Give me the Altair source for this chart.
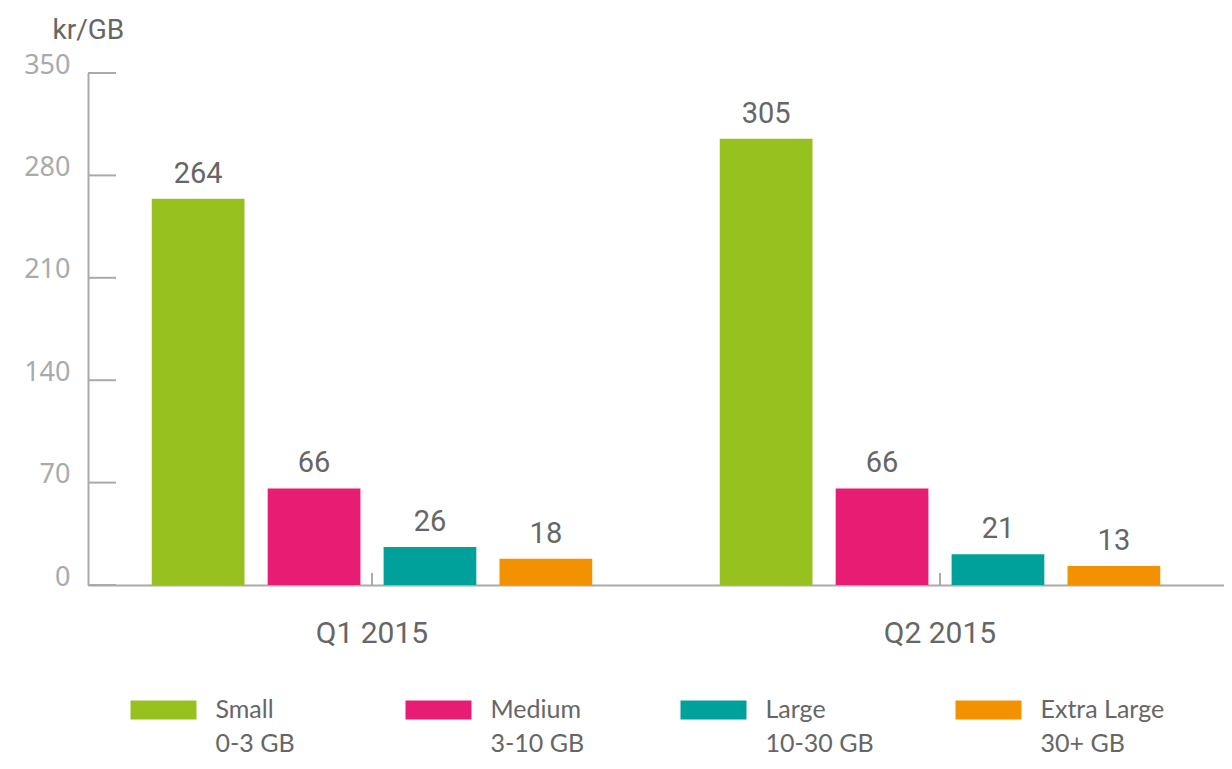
import altair as alt
import pandas as pd

quarters = ["Q1 2015", "Q2 2015"]
sizes = ["Small", "Medium", "Large", "Extra Large"]
size_ranges = ["0-3 GB", "3-10 GB", "10-30 GB", "30+ GB"]
q1_values = [264, 66, 26, 18]
q2_values = [305, 66, 21, 13]
colors = ["#96c11f", "#e71d73", "#00a19a", "#f39200"]
y_ticks = [0, 70, 140, 210, 280, 350]

rows = []
for q, vals in zip(quarters, [q1_values, q2_values]):
    for s, v in zip(sizes, vals):
        rows.append({"quarter": q, "size": s, "value": v})
df = pd.DataFrame(rows)
ticks_df = pd.DataFrame({"tick": y_ticks})
q_df = pd.DataFrame({"quarter": quarters})
leg_df = pd.DataFrame({"size": sizes, "label": [s + "|" + r for s, r in zip(sizes, size_ranges)]})

AXIS = "#aaaaaa"
TEXT = "#666666"

x_enc = alt.X("quarter:N", sort=quarters,
              scale=alt.Scale(paddingInner=0, paddingOuter=0),
              axis=alt.Axis(title=None, ticks=False, grid=False, domainColor=AXIS, domainWidth=2,
                            labelColor=TEXT, labelFontSize=30, labelFont="Roboto",
                            labelPadding=33, labelAngle=0))
xoff = alt.XOffset("size:N", sort=sizes, scale=alt.Scale(paddingInner=0.2, paddingOuter=0.55))
y_enc = alt.Y("value:Q", scale=alt.Scale(domain=[0, 350], nice=False),
              axis=alt.Axis(values=y_ticks, ticks=False, grid=False, domainColor=AXIS, domainWidth=2,
                            labelColor=AXIS, labelFontSize=27, labelFont="Noto Sans",
                            labelBaseline="alphabetic", labelPadding=18,
                            title="kr/GB", titleAngle=0, titleAlign="left", titleBaseline="alphabetic",
                            titleX=-36, titleY=-35, titleFontSize=28, titleColor=TEXT,
                            titleFontWeight="normal", titleFont="Roboto",
                            minExtent=80, maxExtent=80))
color_enc = alt.Color("size:N", scale=alt.Scale(domain=sizes, range=colors), legend=None)

bars = alt.Chart(df).mark_bar().encode(x=x_enc, xOffset=xoff, y=y_enc, color=color_enc)
texts = alt.Chart(df).mark_text(dy=-16, baseline="alphabetic", fontSize=29, font="Roboto",
                                color=TEXT).encode(
    x=alt.X("quarter:N", sort=quarters), xOffset=alt.XOffset("size:N", sort=sizes),
    y="value:Q", text="value:Q")
ytick_rules = alt.Chart(ticks_df).mark_rule(color=AXIS, strokeWidth=2).encode(
    y="tick:Q", x=alt.value(0), x2=alt.value(28))
xtick_rules = alt.Chart(q_df).mark_rule(color=AXIS, strokeWidth=2).encode(
    x=alt.X("quarter:N", sort=quarters), y=alt.value(512), y2=alt.value(500))

main = alt.layer(bars, texts, ytick_rules, xtick_rules).properties(width=1136, height=512)

leg_x = alt.X("size:N", sort=sizes, scale=alt.Scale(paddingInner=0, paddingOuter=0), axis=None)
sym = alt.Chart(leg_df).mark_point(shape="M-1,-0.29H1V0.29H-1Z", size=4356, filled=True,
                                   opacity=1, strokeWidth=0, xOffset=-62).encode(
    x=leg_x, color=alt.Color("size:N", scale=alt.Scale(domain=sizes, range=colors), legend=None))
lab = alt.Chart(leg_df).mark_text(align="left", baseline="alphabetic", dx=-10, dy=8,
                                  lineBreak="|", lineHeight=34, fontSize=25,
                                  font="Lato", color=TEXT).encode(
    x=leg_x, text="label:N")
legend = alt.layer(sym, lab).properties(width=1100, height=40)

chart = alt.vconcat(main, legend, spacing=42).properties(
    padding={"top": 8, "left": 0, "right": 0, "bottom": 0}
).configure(background="white", view=alt.ViewConfig(stroke=None, strokeWidth=0))

chart.save("out.html", embed_options={"renderer": "svg", "actions": False})
